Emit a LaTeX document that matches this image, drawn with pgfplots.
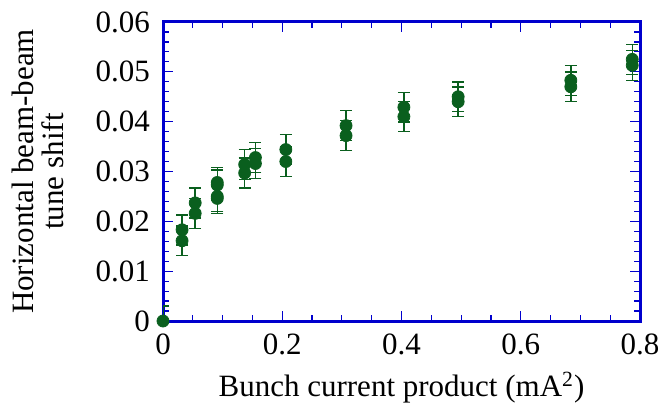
\documentclass[border=0pt]{standalone}
\usepackage{pgfplots}
\pgfplotsset{compat=1.18}
\usepackage{pgfplotstable}
\usepackage{fontspec}
\setmainfont{Liberation Serif}

\definecolor{frameblue}{RGB}{0,0,205}
\definecolor{ptgreen}{RGB}{10,95,30}

% Measured horizontal beam-beam tune shift vs bunch current product
\pgfplotstableread{
x       y       e
0.000   0.0000  0.003
0.032   0.0183  0.003
0.032   0.0161  0.003
0.054   0.0237  0.003
0.054   0.0216  0.003
0.091   0.0278  0.003
0.091   0.0273  0.003
0.091   0.0250  0.003
0.091   0.0246  0.003
0.137   0.0314  0.003
0.137   0.0297  0.003
0.155   0.0328  0.003
0.155   0.0316  0.003
0.206   0.0344  0.003
0.206   0.0320  0.003
0.307   0.0392  0.003
0.307   0.0372  0.003
0.404   0.0429  0.003
0.404   0.0410  0.003
0.495   0.0450  0.003
0.495   0.0440  0.003
0.684   0.0483  0.003
0.684   0.0470  0.003
0.787   0.0525  0.003
0.787   0.0513  0.003
}\tuneshift

\begin{document}
\begin{tikzpicture}
\begin{axis}[
  scale only axis,
  width=238.5pt, height=149.5pt,
  xmin=0, xmax=0.8, ymin=0, ymax=0.06,
  xtick={0,0.2,0.4,0.6,0.8},
  ytick={0,0.01,0.02,0.03,0.04,0.05,0.06},
  scaled x ticks=false,
  scaled y ticks=false,
  minor x tick num=3,
  minor y tick num=4,
  tick align=inside,
  major tick length=5pt,
  minor tick length=3pt,
  axis line style={frameblue, line width=1.5pt},
  every tick/.style={frameblue, line width=0.6pt},
  font=\fontsize{15.5}{15}\selectfont,
  /pgf/number format/assume math mode=true,
  /pgf/number format/fixed,
  /pgf/number format/precision=2,
  yticklabel style={xshift=-3pt},
  xticklabel style={yshift=-3pt},
  xlabel={Bunch current product (mA\textsuperscript{2})},
  ylabel={Horizontal beam-beam\\tune shift},
  xlabel style={at={(axis description cs:0.5,-0.254)}, anchor=base},
  ylabel style={at={(axis description cs:-0.3166,0.5)}, anchor=north,
    align=center, inner sep=0pt},
]
\addplot+[
  only marks,
  mark=*,
  mark size=3pt,
  color=ptgreen,
  mark options={fill=ptgreen, draw=ptgreen},
  error bars/.cd,
    y dir=both, y explicit,
    error bar style={line width=0.75pt, ptgreen},
    error mark options={rotate=90, mark size=3pt, line width=0.75pt, ptgreen},
] table[x=x, y=y, y error=e] {\tuneshift};
\end{axis}
\pgfresetboundingbox
\path ([shift={(-81.5pt,-45pt)}]current axis.south west)
      rectangle ([shift={(9pt,11pt)}]current axis.north east);
\end{tikzpicture}
\end{document}
